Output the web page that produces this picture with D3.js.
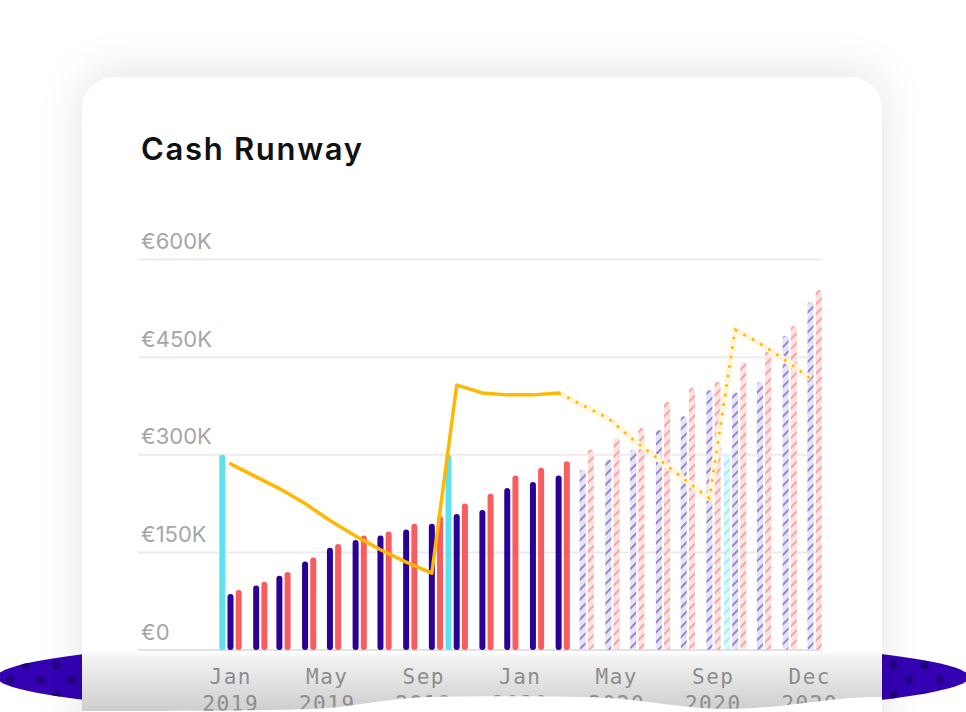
<!DOCTYPE html>
<html><head><meta charset="utf-8">
<script src="https://cdn.jsdelivr.net/npm/d3@7"></script>
<style>html,body{margin:0;padding:0;background:#fff;overflow:hidden}</style>
</head><body>
<svg id="c" width="966" height="712"></svg>
<script>
// ---- data (values in € thousands) ----
const months = ["2019-01","2019-02","2019-03","2019-04","2019-05","2019-06","2019-07","2019-08","2019-09","2019-10","2019-11","2019-12",
                "2020-01","2020-02","2020-03","2020-04","2020-05","2020-06","2020-07","2020-08","2020-09","2020-10","2020-11","2020-12"];
const expenses = [86, 99, 114, 136, 157, 169, 176, 185, 194, 209, 215, 249, 258, 268, 277, 293, 308, 338, 359, 399, 396, 412, 483, 535];
const revenue  = [92, 105, 120, 142, 163, 176, 182, 194, 206, 225, 240, 268, 280, 290, 308, 326, 341, 381, 403, 412, 442, 462, 498, 553];
const cashBalance = [286, 266, 248, 225, 199, 175, 154, 135, 118, 407, 395, 392, 392, 395, 376, 356, 323, 293, 263, 233, 492, 471, 445, 417];
const fundingMonths = ["2019-01","2019-10","2020-09"];
const fundingValues = [300, 300, 300];
const forecastFrom = "2020-03";     // bars hatched from this month
const lineForecastFrom = "2020-02"; // line dotted from this month
const yTicks = [0, 150, 300, 450, 600];
const yTickLabels = ["€0", "€150K", "€300K", "€450K", "€600K"];
const xTickMonths = ["Jan", "May", "Sep", "Jan", "May", "Sep", "Dec"];
const xTickYears  = ["2019", "2019", "2019", "2020", "2020", "2020", "2020"];
const title = "Cash Runway";

// ---- setup ----
const svg = d3.select("#c");
const parse = d3.timeParse("%Y-%m");
const C = { purple: "#2c0096", red: "#f75c5f", cyan: "#5de1ef", gold: "#ffb800" };

const x = d3.scaleTime().domain([parse("2019-01"), parse("2020-12")]).range([230.5, 810.5]);
const y = d3.scaleLinear().domain([0, 600]).range([650, 259.5]);
const xLab = d3.scalePoint().domain(d3.range(xTickMonths.length)).range([230, 809]);

const defs = svg.append("defs");
const sh = defs.append("filter").attr("id", "sh").attr("x", "-20%").attr("y", "-30%").attr("width", "140%").attr("height", "160%");
sh.append("feDropShadow").attr("dx", 0).attr("dy", -4).attr("stdDeviation", 22).attr("flood-color", "#000").attr("flood-opacity", 0.11);

function hatch(id, bg, fg) {
  const p = defs.append("pattern").attr("id", id).attr("patternUnits", "userSpaceOnUse")
    .attr("width", 7).attr("height", 7).attr("patternTransform", "rotate(45)");
  p.append("rect").attr("width", 7).attr("height", 7).attr("fill", bg);
  p.append("rect").attr("width", 2).attr("height", 7).attr("fill", fg);
}
hatch("hP", "#e7e3f5", "#9486d6");
hatch("hR", "#fde2e2", "#f9a4a4");
hatch("hC", "#d9f9fc", "#a0eef6");

const dots = defs.append("pattern").attr("id", "dots").attr("patternUnits", "userSpaceOnUse")
  .attr("x", 2.25).attr("y", 657.5).attr("width", 31).attr("height", 30);
dots.append("circle").attr("cx", 23.25).attr("cy", 7.5).attr("r", 4.2).attr("fill", "#220080");
dots.append("circle").attr("cx", 7.75).attr("cy", 22.5).attr("r", 4.2).attr("fill", "#220080");

const g1 = defs.append("linearGradient").attr("id", "bot").attr("x1", 0).attr("y1", 0).attr("x2", 0).attr("y2", 1);
g1.append("stop").attr("offset", 0).attr("stop-color", "#ffffff");
g1.append("stop").attr("offset", 0.12).attr("stop-color", "#f2f2f2");
g1.append("stop").attr("offset", 1).attr("stop-color", "#cdcdcd");

// ---- background decoration ----
svg.append("ellipse").attr("cx", 483).attr("cy", 677).attr("rx", 486).attr("ry", 40).attr("fill", "#3400b2");
svg.append("ellipse").attr("cx", 483).attr("cy", 677).attr("rx", 486).attr("ry", 40).attr("fill", "url(#dots)");

// card
svg.append("rect").attr("x", 82).attr("y", 77).attr("width", 800).attr("height", 700).attr("rx", 32)
  .attr("fill", "#fff").attr("filter", "url(#sh)");
svg.append("rect").attr("x", 82).attr("y", 651).attr("width", 800).attr("height", 61).attr("fill", "url(#bot)");

// title
const t = svg.append("text").attr("x", 141).attr("y", 160).attr("font-family", "Inter, 'Noto Sans', sans-serif")
  .attr("font-size", 31).attr("font-weight", 600).attr("fill", "#111").text(title);
const tw = t.node().getComputedTextLength();
t.attr("letter-spacing", ((221 - tw) / (title.length - 1)).toFixed(2));

// gridlines & y labels
svg.append("g").selectAll("line").data(yTicks).join("line")
  .attr("x1", 138).attr("x2", 822).attr("y1", d => y(d)).attr("y2", d => y(d))
  .attr("stroke", d => d === 0 ? "#e2e2e2" : "#ececec").attr("stroke-width", 2);
svg.append("g").selectAll("text").data(yTicks).join("text")
  .attr("x", 141).attr("y", d => y(d) - 10.5)
  .attr("font-family", "Inter, 'Noto Sans', sans-serif").attr("font-size", 22).attr("fill", "#a6a6a6")
  .text((d, i) => yTickLabels[i]);

// bars
const fc = parse(forecastFrom);
const bars = svg.append("g");
const bw = 6;
function drawBars(dates, vals, off, solid, hatchId) {
  bars.append("g").selectAll("rect").data(dates.map((m, i) => ({ d: parse(m), v: vals[i] }))).join("rect")
    .attr("x", d => x(d.d) + off - bw / 2).attr("width", bw)
    .attr("y", d => y(d.v)).attr("height", d => y(0) - y(d.v))
    .attr("rx", 3)
    .attr("fill", d => d.d >= fc ? `url(#${hatchId})` : solid);
}
drawBars(fundingMonths, fundingValues, -8.2, C.cyan, "hC");
drawBars(months, expenses, 0, C.purple, "hP");
drawBars(months, revenue, 8.2, C.red, "hR");

// line
const pts = months.map((m, i) => ({ d: parse(m), v: cashBalance[i] }));
const lf = parse(lineForecastFrom);
const line = d3.line().x(d => x(d.d)).y(d => y(d.v));
const solidPts = pts.filter(p => p.d <= lf), dotPts = pts.filter(p => p.d >= lf);
svg.append("path").attr("d", line(dotPts)).attr("fill", "none").attr("stroke", "#fff5da").attr("stroke-width", 6).attr("stroke-linejoin", "round");
svg.append("path").attr("d", line(dotPts)).attr("fill", "none").attr("stroke", C.gold).attr("stroke-width", 2.6).attr("stroke-dasharray", "2.6 7");
svg.append("path").attr("d", line(solidPts)).attr("fill", "none").attr("stroke", C.gold).attr("stroke-width", 3.5)
  .attr("stroke-linejoin", "round").attr("stroke-linecap", "round");

// x labels
const xl = svg.append("g").selectAll("text").data(xTickMonths).join("text")
  .attr("x", (d, i) => xLab(i)).attr("text-anchor", "middle")
  .attr("font-family", "'DejaVu Sans Mono', monospace").attr("font-size", 21).attr("letter-spacing", 1.5)
  .attr("fill", "#8d8d8d");
xl.append("tspan").attr("x", (d, i) => xLab(i) + 0.75).attr("y", 684).text(d => d);
xl.append("tspan").attr("x", (d, i) => xLab(i) + 0.75).attr("y", 711).text((d, i) => xTickYears[i]);

// white wave at bottom
svg.append("path").attr("fill", "#fff")
  .attr("d", "M82,712 L82,711 C200,711 300,711 340,707 C370,703 400,697 450,696.5 C510,696 560,696 600,697.5 C640,699 680,708 720,709 C770,709 800,703 840,699 C860,697 875,697 882,697 L882,712 Z");
</script>
</body></html>
